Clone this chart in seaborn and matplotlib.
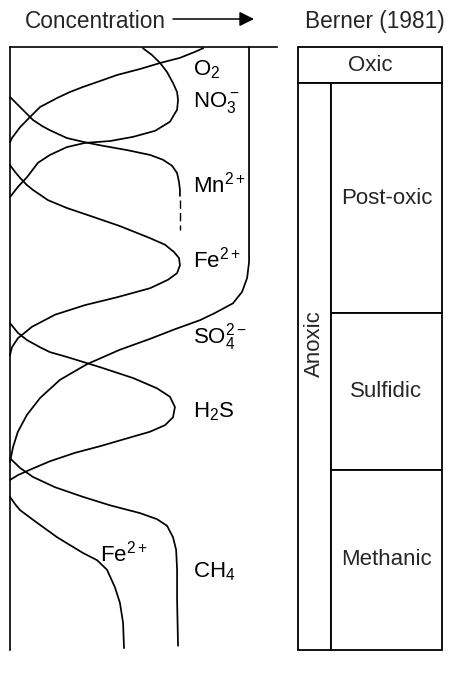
import numpy as np
import matplotlib
matplotlib.use("Agg")
import matplotlib.pyplot as plt
import seaborn as sns

# concentration (relative, SO4 plateau = 100) and depth (relative, 0 = interface, 100 = base)
o2_conc = [80.8, 77.4, 71.1, 62.8, 54.4, 44.8, 37.7, 30.5, 25.1, 19.7, 12.6, 8.4, 4.2, 0.8, 0.0]
o2_depth = [0.2, 0.8, 1.8, 2.65, 3.65, 4.64, 5.64, 6.63, 7.46, 8.46, 9.95, 11.6, 13.3, 15.1, 15.8]

no3_conc = [55.6, 59.4, 62.8, 65.7, 68.2, 69.9, 70.3, 69.9, 66.9, 60.7, 51.5, 41.8, 31.4, 23.8, 16.7, 11.7, 7.1, 3.3, 0.0]
no3_depth = [0.2, 1.33, 2.65, 4.15, 5.97, 7.46, 8.79, 10.4, 12.4, 13.9, 14.9, 15.6, 15.9, 16.6, 17.9, 19.2, 21.6, 23.2, 24.9]

mn_conc = [0.0, 2.1, 4.2, 7.1, 9.6, 13.4, 16.7, 23.8, 31.4, 37.7, 49.0, 58.6, 64.0, 67.8, 69.9, 70.7, 71.1, 71.1]
mn_depth = [8.29, 9.12, 9.95, 11.1, 12.1, 13.1, 13.8, 15.1, 15.8, 16.3, 17.1, 17.9, 18.7, 19.7, 20.9, 22.4, 23.7, 24.7]
mn_tail_depth = [25.4, 30.4]

fe_up_conc = [0.0, 2.1, 4.2, 7.1, 9.6, 15.9, 23.8, 33.5, 46.0, 58.6, 64.9, 68.6, 70.7, 71.1, 69.9, 66.1, 58.6, 44.8, 31.4, 18.8, 9.2, 3.3, 0.8, 0.0]
fe_up_depth = [19.6, 20.7, 21.7, 22.9, 23.7, 25.4, 26.7, 28.0, 29.7, 31.7, 32.8, 34.0, 35.0, 36.2, 37.5, 38.6, 40.0, 41.5, 42.8, 44.4, 46.4, 48.3, 49.8, 51.1]

so4_conc = [100.0, 100.0, 99.2, 97.1, 93.3, 85.8, 79.5, 69.0, 58.6, 46.0, 32.2, 20.9, 12.6, 7.1, 3.3, 1.3, 0.0]
so4_depth = [0.0, 35.7, 38.3, 40.6, 42.5, 44.1, 45.3, 46.8, 48.4, 50.2, 52.6, 55.2, 58.2, 61.0, 63.8, 66.3, 68.8]

h2s_conc = [0.0, 3.3, 7.1, 12.6, 16.7, 23.8, 37.7, 51.5, 61.5, 66.9, 69.0, 68.2, 64.9, 58.6, 48.1, 37.7, 27.2, 16.7, 8.4, 3.3, 0.0]
h2s_depth = [45.8, 47.4, 48.6, 49.8, 50.6, 51.4, 53.1, 54.9, 56.6, 58.0, 59.7, 61.4, 62.7, 63.8, 65.0, 66.2, 67.3, 68.7, 70.1, 71.0, 71.8]

ch4_conc = [0.0, 4.2, 9.6, 18.8, 30.5, 41.8, 54.4, 61.5, 65.7, 68.2, 69.5, 69.9, 69.9, 70.3]
ch4_depth = [68.2, 69.8, 71.3, 73.0, 74.6, 76.0, 77.3, 78.3, 79.4, 81.3, 83.4, 86.7, 91.7, 99.3]

fe_lo_conc = [0.0, 2.1, 4.2, 9.6, 19.7, 30.5, 36.4, 40.6, 43.9, 46.0, 47.3, 47.7]
fe_lo_depth = [74.6, 75.8, 76.8, 78.4, 81.3, 83.9, 85.1, 86.7, 89.6, 92.2, 95.5, 99.7]

species_labels = [r'$\mathrm{O_2}$', r'$\mathrm{NO_3^-}$', r'$\mathrm{Mn^{2+}}$', r'$\mathrm{Fe^{2+}}$',
                  r'$\mathrm{SO_4^{2-}}$', r'$\mathrm{H_2S}$', r'$\mathrm{Fe^{2+}}$', r'$\mathrm{CH_4}$']
label_x = [76.6, 76.6, 76.6, 76.6, 76.6, 76.6, 37.7, 76.6]
label_depth = [4.64, 9.95, 24.2, 36.6, 49.1, 61.5, 85.4, 87.9]

# Berner (1981) zones
zone_names = ["Oxic", "Post-oxic", "Sulfidic", "Methanic"]
zone_top = [0.0, 6.0, 44.1, 70.1]
zone_bottom = [6.0, 44.1, 70.1, 100.0]
anoxic_top, anoxic_bottom = 6.0, 100.0

sns.set_theme(style="white")
plt.rcParams['font.family'] = ['Liberation Sans', 'DejaVu Sans']
plt.rcParams['mathtext.fontset'] = 'custom'
plt.rcParams['mathtext.rm'] = 'Liberation Sans'
plt.rcParams['mathtext.it'] = 'Liberation Sans:italic'
plt.rcParams['mathtext.bf'] = 'Liberation Sans:bold'

W, H = 450, 673
fig = plt.figure(figsize=(W / 100, H / 100), dpi=100)
fig.patch.set_facecolor('white')

ax = fig.add_axes([10 / W, 23 / H, 267 / W, 603 / H])
ax.set_xlim(0, 111.7)
ax.set_ylim(100, 0)
ax.set_xticks([])
ax.set_yticks([])
for s in ['right', 'bottom']:
    ax.spines[s].set_visible(False)
for s in ['left', 'top']:
    ax.spines[s].set_color('black')
    ax.spines[s].set_linewidth(1.2)
ax.set_facecolor('white')

profiles = [(o2_conc, o2_depth), (no3_conc, no3_depth), (mn_conc, mn_depth),
            (fe_up_conc, fe_up_depth), (so4_conc, so4_depth), (h2s_conc, h2s_depth),
            (ch4_conc, ch4_depth), (fe_lo_conc, fe_lo_depth)]
for conc, depth in profiles:
    sns.lineplot(x=conc, y=depth, sort=False, estimator=None, color='black',
                 lw=1.25, ax=ax, clip_on=False)

# faint continuation of the Mn2+ profile
ax.plot([mn_conc[-1]] * 2, mn_tail_depth, color='black', lw=1.0,
        linestyle=(0, (6, 3)), clip_on=False)

for lab, lx, ld in zip(species_labels, label_x, label_depth):
    ax.text(lx, ld, lab, fontsize=16, ha='left', va='baseline', color='black')

# right panel: zones
ax2 = fig.add_axes([298 / W, 23 / H, 144 / W, 603 / H])
ax2.set_xlim(0, 1)
ax2.set_ylim(100, 0)
ax2.axis('off')
col = 0.229
ax2.bar(0, zone_bottom[0] - zone_top[0], width=1, bottom=zone_top[0], align='edge',
        facecolor='white', edgecolor='black', lw=1.3, clip_on=False)
ax2.bar(0, anoxic_bottom - anoxic_top, width=col, bottom=anoxic_top, align='edge',
        facecolor='white', edgecolor='black', lw=1.3, clip_on=False)
for t, b in zip(zone_top[1:], zone_bottom[1:]):
    ax2.bar(col, b - t, width=1 - col, bottom=t, align='edge',
            facecolor='white', edgecolor='black', lw=1.3, clip_on=False)

ax2.text(0.5, (zone_top[0] + zone_bottom[0]) / 2, zone_names[0], fontsize=16,
         ha='center', va='center')
for name, t, b in zip(zone_names[1:], zone_top[1:], zone_bottom[1:]):
    ax2.text((col + 1) / 2, (t + b) / 2, name, fontsize=16, ha='center', va='center')
ax2.text(col / 2, 49.1, "Anoxic", fontsize=16, rotation=90, ha='center', va='center')

# headers
fig.text(25 / W, 1 - 28 / H, "Concentration", fontsize=16.3, ha='left', va='baseline')
fig.text(374.5 / W, 1 - 28 / H, "Berner (1981)", fontsize=16.3, ha='center', va='baseline')
fig.patches.append(matplotlib.patches.FancyArrowPatch(
    (173 / W, 1 - 19 / H), (254 / W, 1 - 19 / H), transform=fig.transFigure,
    arrowstyle='-|>', mutation_scale=22, color='black', lw=1.1, shrinkA=0, shrinkB=0))

fig.savefig("out.png", dpi=100, facecolor='white')
